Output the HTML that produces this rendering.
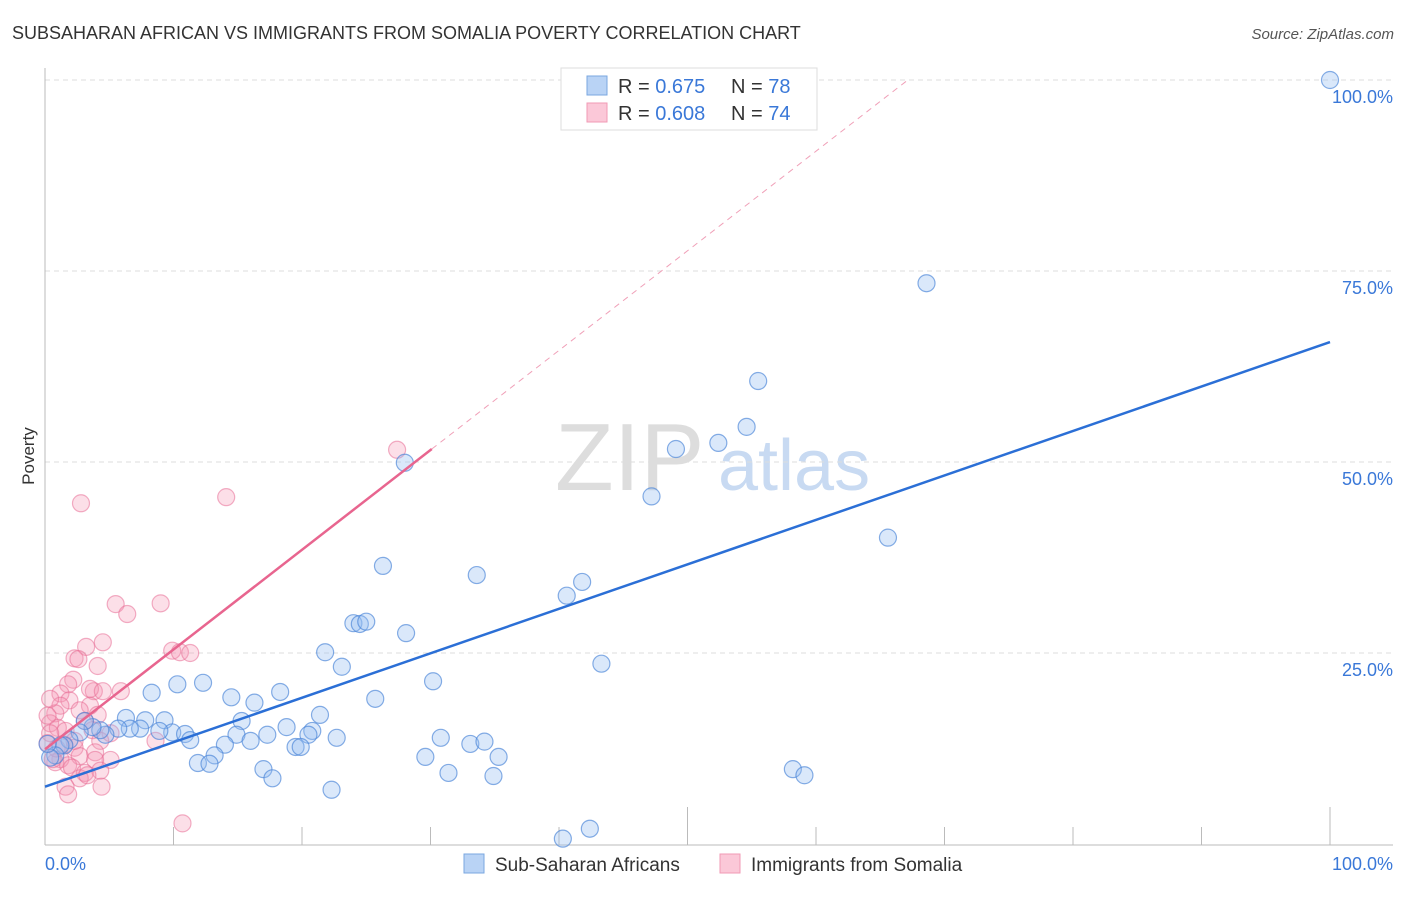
<!DOCTYPE html>
<html><head><meta charset="utf-8"><style>
body{margin:0;background:#fff;font-family:"Liberation Sans",sans-serif}
svg text{font-family:"Liberation Sans",sans-serif}
</style></head><body>
<svg id="chart" width="1406" height="892" xmlns="http://www.w3.org/2000/svg">
<text x="12" y="39" font-size="18" fill="#333">SUBSAHARAN AFRICAN VS IMMIGRANTS FROM SOMALIA POVERTY CORRELATION CHART</text>
<text x="1394" y="39" font-size="15" fill="#555" font-style="italic" text-anchor="end">Source: ZipAtlas.com</text>
<text x="34" y="456" font-size="17" fill="#333" transform="rotate(-90 34 456)" text-anchor="middle">Poverty</text>
<text x="555" y="490" font-size="96" fill="#ddd" font-family="Liberation Serif">ZIP</text>
<text x="718" y="490" font-size="72" fill="#c8daf2">atlas</text>
<g id="grid"></g>
<g id="axes"></g>
<g id="pts"></g>
<g id="lines"></g>
<g>
<rect x="561" y="68" width="256" height="62" fill="#fff" stroke="#ddd"/>
<rect x="587" y="76" width="20" height="19" fill="#b9d3f5" stroke="#7aa7e0"/>
<rect x="587" y="103" width="20" height="19" fill="#fbc8d8" stroke="#f09ab5"/>
<text x="618" y="93" font-size="20" fill="#333">R = <tspan fill="#3a78d8">0.675</tspan><tspan x="731">N = </tspan><tspan fill="#3a78d8">78</tspan></text>
<text x="618" y="120" font-size="20" fill="#333">R = <tspan fill="#3a78d8">0.608</tspan><tspan x="731">N = </tspan><tspan fill="#3a78d8">74</tspan></text>
</g>
<g>
<rect x="464" y="854" width="20" height="19" fill="#b9d3f5" stroke="#7aa7e0"/>
<text x="495" y="871" font-size="19" fill="#333">Sub-Saharan Africans</text>
<rect x="720" y="854" width="20" height="19" fill="#fbc8d8" stroke="#f09ab5"/>
<text x="751" y="871" font-size="19" fill="#333">Immigrants from Somalia</text>
</g>
</svg>
<script>
const blueX=[100,68.6,55.5,54.6,52.4,49.1,47.2,28.0,65.6,41.8,40.6,33.6,26.3,24.0,24.5,25.0,28.1,43.3,21.8,23.1,30.2,25.7,8.3,10.3,12.3,14.5,16.3,18.3,21.4,18.8,15.3,20.8,20.5,22.7,17.3,14.9,16.0,19.5,19.9,14.0,13.2,11.9,12.8,17.0,17.7,22.3,30.8,33.1,34.2,35.3,29.6,31.4,34.9,58.2,59.1,40.3,42.4,6.3,7.8,9.3,9.9,10.9,11.3,8.9,7.4,6.6,5.7,4.7,4.3,3.7,3.1,2.7,1.9,1.5,1.2,0.8,0.4,0.2];
const blueY=[100,73.4,60.6,54.6,52.5,51.7,45.5,49.9,40.1,34.3,32.5,35.2,36.4,28.9,28.8,29.1,27.6,23.6,25.1,23.2,21.3,19.0,19.8,20.9,21.1,19.2,18.5,19.9,16.9,15.3,16.1,14.8,14.3,13.9,14.3,14.3,13.5,12.7,12.7,13.0,11.6,10.6,10.5,9.8,8.6,7.1,13.9,13.1,13.4,11.4,11.4,9.3,8.9,9.8,9.0,0.7,2.0,16.5,16.2,16.2,14.6,14.4,13.6,14.8,15.1,15.1,15.1,14.3,14.9,15.3,16.1,14.6,13.6,12.9,12.9,11.6,11.3,13.1];
const pinkX=[27.4,2.8,14.1,5.5,9.0,6.4,4.5,3.2,9.9,10.5,11.3,2.3,2.6,4.1,2.2,1.8,5.9,3.8,3.5,4.5,1.2,1.9,3.5,2.7,4.1,1.2,0.8,0.4,1.0,1.6,3.1,3.7,5.1,4.3,2.3,2.7,3.9,1.2,0.8,1.8,5.1,3.9,2.1,3.1,4.3,2.7,1.6,1.8,4.4,8.6,10.7,0.4,0.2,0.6,0.2,0.4,1.5,0.9,2.3,3.3];
const pinkY=[51.6,44.6,45.4,31.4,31.5,30.1,26.4,25.8,25.3,25.1,25.0,24.3,24.2,23.3,21.5,20.9,20.0,20.0,20.3,20.0,19.7,18.8,18.1,17.5,16.9,18.1,17.1,15.8,15.2,14.8,16.1,14.9,14.5,13.5,12.6,11.5,12.0,11.1,10.7,10.3,11.0,11.0,10.0,9.3,9.6,8.6,7.5,6.5,7.5,13.5,2.7,14.5,13.2,11.1,16.8,19.0,13.0,12.5,13.5,9.0];
const X0=45,X1=1330,Y0=844,Y100=80;
const sx=v=>X0+(X1-X0)*v/100, sy=v=>Y0-(Y0-Y100)*v/100;
const NS="http://www.w3.org/2000/svg";
function mk(tag,attrs,parent){const e=document.createElementNS(NS,tag);for(const k in attrs)e.setAttribute(k,attrs[k]);document.getElementById(parent).appendChild(e);return e;}
const yTicks=[25,50,75,100], yLabels=["25.0%","50.0%","75.0%","100.0%"];
yTicks.forEach((t,i)=>{
 const g=mk("line",{x1:45,x2:1393,y1:sy(t),y2:sy(t),stroke:"#ddd","stroke-dasharray":"5,4"},"grid");
 
 
 const l=mk("text",{x:1393,y:sy(t)+23,"font-size":18,fill:"#3a78d8","text-anchor":"end"},"grid");
 l.textContent=yLabels[i];
 
 
});
mk("line",{x1:45,x2:45,y1:68,y2:845,stroke:"#bbb"},"axes");
mk("line",{x1:45,x2:1393,y1:845,y2:845,stroke:"#bbb"},"axes");
for(let i=1;i<=10;i++){const top=(i%5===0)?807:827;
 const t=mk("line",{x1:sx(i*10),x2:sx(i*10),y1:top,y2:845,stroke:"#bbb"},"axes");
 
 }
const xl0=mk("text",{x:45,y:870,"font-size":18,fill:"#3a78d8"},"axes");xl0.textContent="0.0%";


const xl1=mk("text",{x:1393,y:870,"font-size":18,fill:"#3a78d8","text-anchor":"end"},"axes");xl1.textContent="100.0%";


pinkX.forEach((x,i)=>{const c=mk("circle",{cx:sx(x),cy:sy(pinkY[i]),r:8.5,fill:"rgba(244,150,180,0.3)",stroke:"rgba(232,110,150,0.55)","stroke-width":1.2},"pts");
 
 });
blueX.forEach((x,i)=>{const c=mk("circle",{cx:sx(x),cy:sy(blueY[i]),r:8.5,fill:"rgba(150,190,240,0.35)",stroke:"rgba(70,130,215,0.65)","stroke-width":1.2},"pts");
 
 });
const bl=mk("line",{x1:sx(0),y1:sy(7.5),x2:sx(100),y2:sy(65.7),stroke:"#2b6fd6","stroke-width":2.5},"lines");


const pl=mk("line",{x1:sx(0),y1:sy(12.4),x2:sx(30.1),y2:sy(51.7),stroke:"#e8658f","stroke-width":2.5},"lines");


const pd=mk("line",{x1:sx(30.1),y1:sy(51.7),x2:sx(67.3),y2:sy(100.2),stroke:"#f0a0b8","stroke-width":1,"stroke-dasharray":"6,5"},"lines");


</script>
</body></html>
